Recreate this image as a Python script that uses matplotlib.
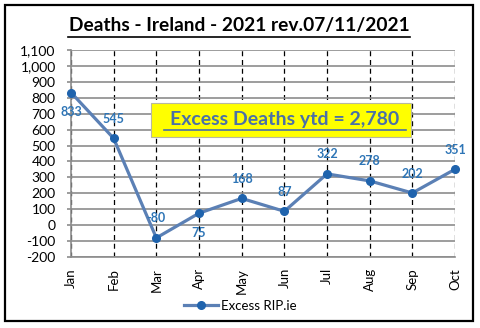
import matplotlib
matplotlib.use("Agg")
import matplotlib.pyplot as plt
from matplotlib.patches import Rectangle

months = ["Jan", "Feb", "Mar", "Apr", "May", "Jun", "Jul", "Aug", "Sep", "Oct"]
excess = [833, 545, -80, 75, 168, 87, 322, 278, 202, 351]
label_below = [True, False, False, True, False, False, False, False, False, False]
series_name = "Excess RIP.ie"
title = "Deaths - Ireland - 2021 rev.07/11/2021"
ytd_text = "Excess Deaths ytd = 2,780"
yticks = list(range(-200, 1101, 100))

plt.rcParams["font.family"] = ["Lato", "DejaVu Sans"]

fig = plt.figure(figsize=(4.8, 3.28), dpi=100)
fig.patch.set_facecolor("white")

# outer frame
fig.patches.append(Rectangle((5 / 480, 1 - 321 / 328), 468 / 480, 316 / 328,
                             transform=fig.transFigure, fill=False,
                             edgecolor="black", linewidth=1.6))

ax = fig.add_axes([71 / 480, 1 - 257 / 328, 384 / 480, 207 / 328])
x = list(range(len(months)))
line_color = "#5b80b5"
ax.plot(x, excess, color=line_color, linewidth=2.3, marker="o",
        markersize=5.5, markerfacecolor="#1f63ad", markeredgecolor="#1f63ad",
        label=series_name, zorder=3, clip_on=False)

for xi, v, below in zip(x, excess, label_below):
    ax.annotate(f"{v}", (xi, v), xytext=(0, -14 if below else 14),
                textcoords="offset points", ha="center", va="center",
                fontsize=9, fontweight="bold", color="#2e75b6", zorder=4)

ax.set_xlim(0, len(months) - 1)
ax.set_ylim(-200, 1100)
ax.set_yticks(yticks)
ax.set_yticklabels([f"{t:,}" for t in yticks], fontsize=10)
ax.set_xticks(x)
ax.set_xticklabels(months, rotation=90, fontsize=9.5)
ax.tick_params(axis="y", length=3, width=1.2, color="#8c8c8c", pad=8,
               labelcolor="black")
ax.tick_params(axis="x", length=0, pad=8, labelcolor="black")

ax.yaxis.grid(True, color="#8c8c8c", linewidth=1.2, linestyle="-")
ax.xaxis.grid(True, color="black", linewidth=0.9, linestyle=(0, (4, 3)))
ax.set_axisbelow(True)
for side in ["top", "right"]:
    ax.spines[side].set_visible(False)
ax.spines["left"].set_color("#8c8c8c")
ax.spines["bottom"].set_color("#8c8c8c")
ax.spines["left"].set_linewidth(1.2)
ax.spines["bottom"].set_linewidth(1.2)

fig.text(239 / 480, 1 - 26 / 328, title, ha="center", va="center", fontsize=13.8,
         fontweight="bold", color="black")
fig.add_artist(plt.Line2D([68 / 480, 410 / 480], [1 - 37 / 328, 1 - 37 / 328],
                          transform=fig.transFigure, color="black", linewidth=1.2))

# yellow annotation box
fig.patches.append(Rectangle((151 / 480, 1 - 137 / 328), 260 / 480, 34 / 328,
                             transform=fig.transFigure, facecolor="#ffff00",
                             edgecolor="#b8b8a0", linewidth=0.8, zorder=5))
fig.text(285 / 480, 1 - 120 / 328, ytd_text, ha="center", va="center",
         fontsize=14, fontweight="bold", color="#4a70a8", zorder=6)
fig.add_artist(plt.Line2D([164 / 480, 406 / 480], [1 - 130 / 328, 1 - 130 / 328],
                          transform=fig.transFigure, color="#4a70a8",
                          linewidth=1.2, zorder=6))

leg = fig.legend(loc="center", bbox_to_anchor=(0.5, 1 - 306 / 328), frameon=False,
                 fontsize=9.5, handlelength=2.6, handletextpad=0.2)

fig.savefig("out.png", dpi=100)
